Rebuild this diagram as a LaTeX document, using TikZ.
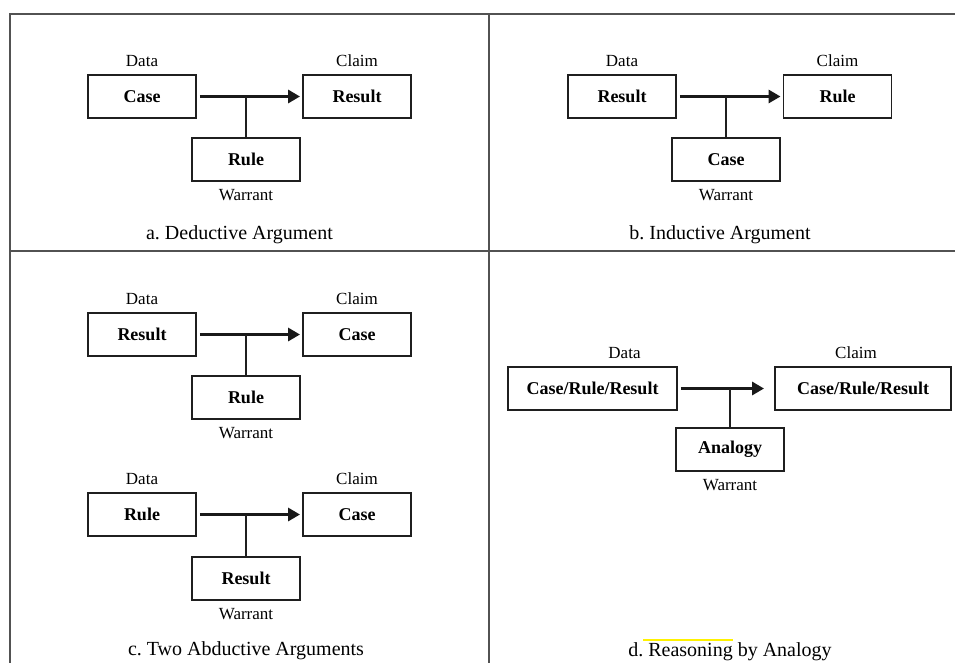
\documentclass[tikz,border=0pt]{standalone}
\usepackage{fontspec}
\setmainfont{Liberation Serif}
\usepackage{tikz}
\usetikzlibrary{arrows.meta,positioning,calc}
\tikzset{
  argbox/.style={draw=black!88, line width=1.9pt, minimum height=43pt,
    minimum width=108pt, align=center, inner sep=2pt,
    font=\fontsize{18}{20}\selectfont\bfseries},
  lbl/.style={inner sep=1pt, font=\fontsize{17}{19}\selectfont},
  capt/.style={inner sep=0pt, anchor=base, font=\fontsize{20}{22}\selectfont},
  flow/.style={-{Triangle[length=12pt,width=13pt]}, line width=3.4pt, black!90},
  warr/.style={line width=1.9pt, black!88},
  frame/.style={draw=black!68, line width=1.3pt}
}
\frenchspacing

\begin{document}
\begin{tikzpicture}[x=1pt, y=-1pt, node distance=6pt]
  \useasboundingbox (0,0) rectangle (955,662);

  % table rules
  \draw[frame] (10,680) -- (10,14) -- (975,14);
  \draw[frame] (489,14) -- (489,680);
  \draw[frame] (10,251) -- (975,251);

  % a. deductive
  \node[argbox] (caseA) at (142,96.5) {Case};
  \node[argbox] (resultA) at (357,96.5) {Result};
  \node[argbox] (ruleA) at (246,159.5) {Rule};
  \node[lbl, above=of caseA] (dataA) {Data};
  \node[lbl, above=of resultA] (claimA) {Claim};
  \node[lbl, below=6pt of ruleA] (warrA) {Warrant};
  \draw[flow, shorten <=3pt, shorten >=2pt] (caseA) -- (resultA);
  \draw[warr] (ruleA.north) -- (ruleA.north |- caseA.east);
  \node[capt] (capA) at (239.5,239) {a. Deductive Argument};

  % b. inductive
  \node[argbox] (resultB) at (622,96.5) {Result};
  \node[argbox] (ruleB) at (837.5,96.5) {Rule};
  \node[argbox] (caseB) at (726,159.5) {Case};
  \node[lbl, above=of resultB] (dataB) {Data};
  \node[lbl, above=of ruleB] (claimB) {Claim};
  \node[lbl, below=6pt of caseB] (warrB) {Warrant};
  \draw[flow, shorten <=3pt, shorten >=2pt] (resultB) -- (ruleB);
  \draw[warr] (caseB.north) -- (caseB.north |- resultB.east);
  \node[capt] (capB) at (720,239) {b. Inductive Argument};

  % c. two abductive
  \node[argbox] (resultC) at (142,334.5) {Result};
  \node[argbox] (caseC) at (357,334.5) {Case};
  \node[argbox] (ruleC) at (246,397.5) {Rule};
  \node[lbl, above=of resultC] (dataC) {Data};
  \node[lbl, above=of caseC] (claimC) {Claim};
  \node[lbl, below=6pt of ruleC] (warrC) {Warrant};
  \draw[flow, shorten <=3pt, shorten >=2pt] (resultC) -- (caseC);
  \draw[warr] (ruleC.north) -- (ruleC.north |- resultC.east);

  \node[argbox] (ruleCC) at (142,514.5) {Rule};
  \node[argbox] (caseCC) at (357,514.5) {Case};
  \node[argbox] (resultCC) at (246,578.5) {Result};
  \node[lbl, above=of ruleCC] (dataCC) {Data};
  \node[lbl, above=of caseCC] (claimCC) {Claim};
  \node[lbl, below=6pt of resultCC] (warrCC) {Warrant};
  \draw[flow, shorten <=3pt, shorten >=2pt] (ruleCC) -- (caseCC);
  \draw[warr] (resultCC.north) -- (resultCC.north |- ruleCC.east);
  \node[capt] (capC) at (246,655) {c. Two Abductive Arguments};

  % d. analogy
  \node[argbox, minimum width=169pt] (crrL) at (592.5,388.5) {Case/Rule/Result};
  \node[argbox, minimum width=176pt] (crrR) at (863,388.5) {Case/Rule/Result};
  \node[argbox] (analogy) at (730,449.5) {Analogy};
  \node[lbl, above=of crrL, xshift=32pt] (dataD) {Data};
  \node[lbl, above=of crrR, xshift=-7pt] (claimD) {Claim};
  \node[lbl, below=6pt of analogy] (warrD) {Warrant};
  \draw[flow, shorten <=3pt, shorten >=10pt] (crrL) -- (crrR);
  \draw[warr] (analogy.north) -- (analogy.north |- crrL.east);
  \node[capt] (capD) at (730,656) {d. Reasoning by Analogy};
  \draw[yellow, line width=2pt] (643,640) -- (733,640);
\end{tikzpicture}
\end{document}
